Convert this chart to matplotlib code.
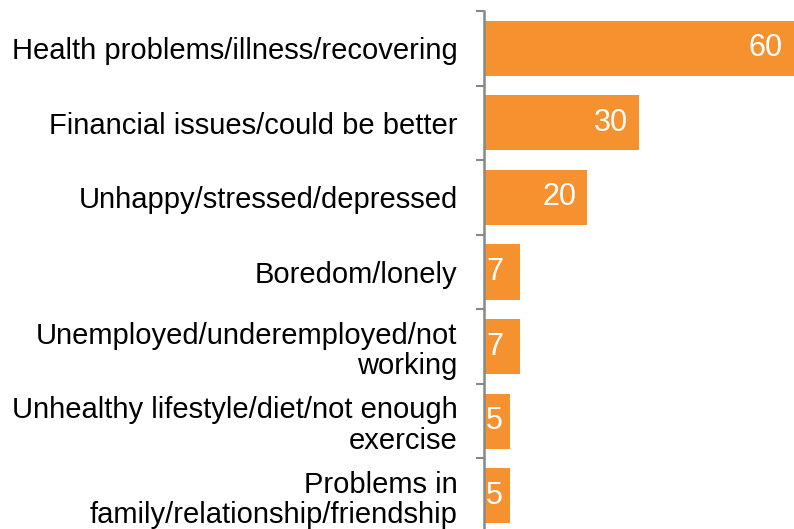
import matplotlib
matplotlib.use("Agg")
import matplotlib.pyplot as plt

categories = [
    "Health problems/illness/recovering",
    "Financial issues/could be better",
    "Unhappy/stressed/depressed",
    "Boredom/lonely",
    "Unemployed/underemployed/not\nworking",
    "Unhealthy lifestyle/diet/not enough\nexercise",
    "Problems in\nfamily/relationship/friendship",
]
values = [60, 30, 20, 7, 7, 5, 5]

plt.rcParams['font.family'] = ['Liberation Sans', 'DejaVu Sans']
fig = plt.figure(figsize=(7.94, 5.29), dpi=100)
ax = fig.add_axes([484/794, -4/529, 1 - 484/794, 1 - 11/529 + 4/529])

pos = list(range(len(categories)))
ax.barh(pos, values, height=0.74, color='#F5922F')
ax.set_xlim(0, 60)
ax.set_ylim(len(categories) - 0.5, -0.5)

ax.set_yticks(pos)
ax.set_yticklabels(categories, fontsize=21, ha='right', color='black',
                   linespacing=1.12)
ax.set_yticks([p - 0.5 for p in pos] + [len(pos) - 0.5], minor=True)
ax.tick_params(axis='y', which='major', length=0, pad=19)
ax.tick_params(axis='y', which='minor', length=5.5, width=1.5, color='#888888')
ax.set_xticks([])
for s in ['top', 'right', 'bottom']:
    ax.spines[s].set_visible(False)
ax.spines['left'].set_color('#888888')
ax.spines['left'].set_linewidth(1.8)

for p, v in zip(pos, values):
    if v >= 10:
        ax.annotate(str(v), (v, p), xytext=(-8, 0), textcoords='offset points',
                    ha='right', va='center', color='white', fontsize=22)
    else:
        ax.annotate(str(v), (0, p), xytext=(1.5, 0), textcoords='offset points',
                    ha='left', va='center', color='white', fontsize=22)

fig.savefig("out.png", dpi=100)
